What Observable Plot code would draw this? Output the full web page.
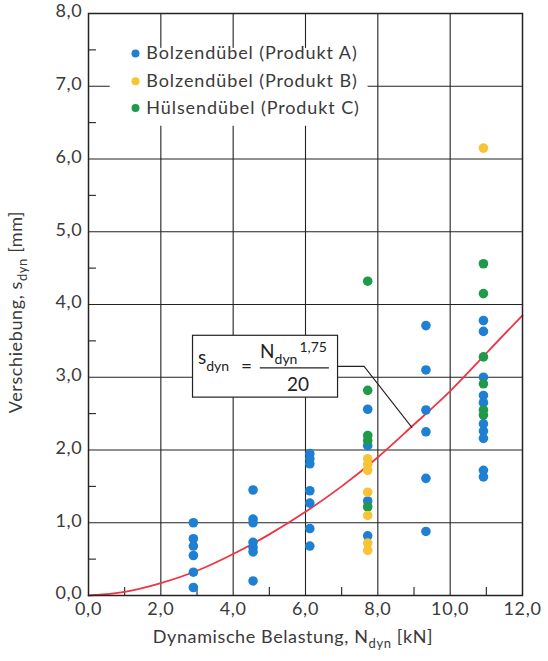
<!DOCTYPE html>
<html><head><meta charset="utf-8">
<script src="https://cdn.jsdelivr.net/npm/d3@7"></script>
<script src="https://cdn.jsdelivr.net/npm/@observablehq/plot@0.6"></script>
<style>
body{margin:0;background:#fff;font-family:Lato,sans-serif}
#chart svg{display:block}
</style>
</head><body><div id="chart"></div>
<script>
// ---- data ----
const seriesNames = ["Bolzendübel (Produkt A)", "Bolzendübel (Produkt B)", "Hülsendübel (Produkt C)"];
const seriesColors = ["#1f7fd2", "#f6c434", "#1f9a4b"];

const loadA = [2.9,2.9,2.9,2.9,2.9,2.9,
               4.55,4.55,4.55,4.55,4.55,4.55,4.55,
               6.12,6.12,6.12,6.12,6.12,6.12,6.12,
               7.72,7.72,7.72,7.72,
               9.33,9.33,9.33,9.33,9.33,9.33,
               10.92,10.92,10.92,10.92,10.92,10.92,10.92,10.92,10.92,10.92];
const dispA = [1.0,0.78,0.68,0.55,0.32,0.11,
               1.45,1.05,1.0,0.73,0.66,0.6,0.2,
               1.95,1.88,1.81,1.44,1.27,0.92,0.68,
               2.56,2.06,1.30,0.82,
               3.71,3.10,2.55,2.25,1.61,0.88,
               3.78,3.63,3.0,2.75,2.65,2.36,2.26,2.16,1.72,1.63];

const loadB = [7.72,7.72,7.72,7.72,7.72,7.72,7.72,10.92];
const dispB = [1.88,1.80,1.72,1.42,1.10,0.72,0.62,6.15];

const loadC = [7.72,7.72,7.72,7.72,7.72,10.92,10.92,10.92,10.92,10.92,10.92];
const dispC = [4.32,2.82,2.20,2.13,1.22,4.56,4.15,3.28,2.91,2.55,2.48];

// curve s_dyn = N_dyn^1.75 / 20
const curveX = [0,1,2,3,4,5,6,7,8,9,10,11,12];
const curveY = [0,0.05,0.17,0.34,0.57,0.84,1.15,1.50,1.90,2.35,2.81,3.33,3.85];

const xTicks = [0,2,4,6,8,10,12];
const yTicks = [0,1,2,3,4,5,6,7,8];
const xGrid = [2,4,6,8,10];
const yGrid = [1,2,3,4,5,6,7];
const xMinor = [1,3,5,7,9,11];
const yMinor = [0.5,1.5,2.5,3.5,4.5,5.5,6.5,7.5];

const xLabel = ["Dynamische Belastung, N", "dyn", " [kN]"];
const yLabel = ["Verschiebung, s", "dyn", " [mm]"];

// annotation geometry (data units)
const legendBox = {x1:0.6, x2:7.73, y1:6.45, y2:7.52};
const legendDotX = 1.3, legendTextX = 1.6;
const legendY = [7.45, 7.07, 6.70];
const formulaBox = {x1:2.89, x2:6.9, y1:2.72, y2:3.57};
const leaderX = [6.9, 7.62, 8.94];
const leaderY = [3.15, 3.15, 2.31];
const fracBar = {x1:4.75, x2:6.66, y:3.13};

// ---- build ----
const rows = [];
[[loadA,dispA,0],[loadC,dispC,2],[loadB,dispB,1]].forEach(([xs,ys,k]) =>
  xs.forEach((x,i) => rows.push({x, y: ys[i], s: seriesNames[k]})));
const curve = curveX.map((x,i) => ({x, y: curveY[i]}));
const legend = seriesNames.map((s,i) => ({s, y: legendY[i]}));
const fmt = d => d.toFixed(1).replace(".", ",");
const ink = "#222";
const txt = "#3a3a3a";

const plot = Plot.plot({
  width: 548, height: 661,
  marginLeft: 88, marginRight: 26, marginTop: 13, marginBottom: 66,
  x: {domain: [0, 12]},
  y: {domain: [0, 8]},
  color: {domain: seriesNames, range: seriesColors},
  style: {fontFamily: "Lato, sans-serif", fontSize: "18px", color: txt, background: "transparent"},
  marks: [
    Plot.ruleX(xGrid, {stroke: ink, strokeWidth: 1.1}),
    Plot.ruleY(yGrid, {stroke: ink, strokeWidth: 1.1}),
    Plot.ruleX(xMinor, {y1: 0, y2: 0.11, stroke: ink, strokeWidth: 1.1}),
    Plot.ruleY(yMinor, {x1: 0, x2: 0.22, stroke: ink, strokeWidth: 1.1}),
    Plot.rect([legendBox], {x1: "x1", x2: "x2", y1: "y1", y2: "y2", fill: "white"}),
    Plot.dot(legend, {x: legendDotX, y: "y", fill: "s", r: 4}),
    Plot.text(legend, {x: legendTextX, y: "y", text: "s", textAnchor: "start", lineAnchor: "middle", fontSize: 18, fill: txt, className: "legend-text"}),
    Plot.line(curve, {x: "x", y: "y", stroke: "#f03442", strokeWidth: 1.8, curve: "natural"}),
    Plot.dot(rows, {x: "x", y: "y", fill: "s", r: 4.8}),
    Plot.line(leaderX.map((x,i) => ({x, y: leaderY[i]})), {x: "x", y: "y", stroke: ink, strokeWidth: 1.1}),
    Plot.rect([formulaBox], {x1: "x1", x2: "x2", y1: "y1", y2: "y2", fill: "white", stroke: ink, strokeWidth: 1.2}),
    Plot.ruleY([fracBar], {y: "y", x1: "x1", x2: "x2", stroke: ink, strokeWidth: 1.2}),
    Plot.axisX({ticks: xTicks, tickSize: 0, tickPadding: 7, tickFormat: fmt, label: null, fontSize: 18}),
    Plot.axisY({ticks: yTicks, tickSize: 0, tickPadding: 6, tickFormat: fmt, label: null, fontSize: 18, dy: -2}),
    Plot.frame({stroke: ink, strokeWidth: 1.5})
  ]
});
document.getElementById("chart").append(plot);

const svg = d3.select(plot);
svg.selectAll(".legend-text text, text.legend-text").style("letter-spacing", "0.9px");
svg.selectAll("g[aria-label='x-axis tick label'] text, g[aria-label='y-axis tick label'] text").style("letter-spacing", "0.7px");

// ---- texts with subscripts ----
const sx = plot.scale("x"), sy = plot.scale("y");
const X = v => sx.apply(v), Y = v => sy.apply(v);

function sub(t, parts, size, subSize) {
  t.append("tspan").text(parts[0]);
  t.append("tspan").attr("font-size", subSize).attr("dy", size * 0.3).text(parts[1]);
  t.append("tspan").attr("dy", -size * 0.3).text(parts[2]);
}
const xt = svg.append("text")
  .attr("x", (X(0) + X(12)) / 2 - 12).attr("y", Y(0) + 48)
  .attr("text-anchor", "middle").attr("font-size", 18).attr("fill", txt)
  .attr("font-family", "Lato, sans-serif").style("letter-spacing", "0.6px");
sub(xt, xLabel, 18, 13);

const yt = svg.append("text")
  .attr("transform", `translate(22,${(Y(0) + Y(8)) / 2 + 8}) rotate(-90)`)
  .attr("text-anchor", "middle").attr("font-size", 18).attr("fill", txt)
  .attr("font-family", "Lato, sans-serif").style("letter-spacing", "0.6px");
sub(yt, yLabel, 18, 13);

// formula
const ax = X((formulaBox.x1 + formulaBox.x2) / 2), ay = Y((formulaBox.y1 + formulaBox.y2) / 2);
const g = svg.append("g").attr("font-family", "Lato, sans-serif").attr("fill", "#222").attr("text-anchor", "start");
const lhs = g.append("text").attr("x", ax - 67).attr("y", ay - 2).attr("font-size", 19);
lhs.append("tspan").text("s");
lhs.append("tspan").attr("font-size", 14).attr("dy", 7).text("dyn");
g.append("text").attr("x", ax - 24).attr("y", ay + 7).attr("font-size", 19).text("=");
const num = g.append("text").attr("x", ax - 5).attr("y", ay - 8).attr("font-size", 19);
num.append("tspan").text("N");
num.append("tspan").attr("font-size", 14).attr("dy", 6).text("dyn");
num.append("tspan").attr("font-size", 14).attr("dy", -12).attr("dx", 2).text("1,75");
g.append("text").attr("x", ax + 33).attr("y", ay + 25).attr("font-size", 19).attr("text-anchor", "middle").text("20");
</script>
</body></html>
